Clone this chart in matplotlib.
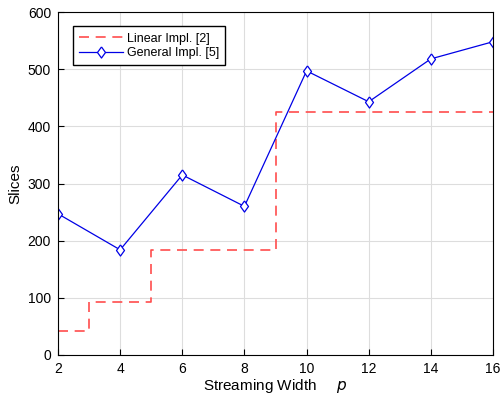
import matplotlib.pyplot as plt
import numpy as np

# Step data for the linear implementation (edges and levels)
linear_x = [2, 3, 5, 9, 16]
linear_y = [42, 93, 183, 425, 425]

# General implementation measurements
general_x = [2, 4, 6, 8, 10, 12, 14, 16]
general_y = [247, 184, 315, 260, 497, 443, 518, 548]

x_ticks = [2, 4, 6, 8, 10, 12, 14, 16]
y_ticks = [0, 100, 200, 300, 400, 500, 600]

plt.rcParams["font.family"] = ["Liberation Sans", "DejaVu Sans"]

# Slightly tall diamond, like the MATLAB marker
diamond = [(0, 1), (0.72, 0), (0, -1), (-0.72, 0), (0, 1)]

fig = plt.figure(figsize=(5.01, 4.03), dpi=100)
ax = fig.add_axes([58 / 501, 1 - 355 / 403, 435 / 501, 343 / 403])

ax.step(linear_x, linear_y, where="post", color="#ff4d4d",
	linestyle=(0, (6, 4)), linewidth=1.2, label="Linear Impl. [2]")
ax.plot(general_x, general_y, color="#0000e6", linewidth=0.9,
	marker=diamond, markersize=8, markerfacecolor="white",
	markeredgecolor="#0000e6", markeredgewidth=0.9, label="General Impl. [5]")

ax.set_xlim(2, 16)
ax.set_ylim(0, 600)
ax.set_xticks(x_ticks)
ax.set_yticks(y_ticks)
ax.tick_params(direction="in", length=4, labelsize=10, width=0.8, pad=5)
ax.grid(True, color="#dddddd", linewidth=0.8)
ax.set_axisbelow(True)
for spine in ax.spines.values():
	spine.set_linewidth(0.8)

ax.set_xlabel("Streaming Width     $p$", fontsize=11, labelpad=1)
ax.set_ylabel("Slices", fontsize=11, labelpad=4)

ax.legend(loc="upper left", bbox_to_anchor=(0.034, 0.958), fontsize=9,
	frameon=True, fancybox=False, edgecolor="black", framealpha=1,
	handlelength=3.5, handletextpad=0.3, borderpad=0.5, labelspacing=0.2,
	borderaxespad=0)

fig.savefig("out.png", dpi=100)
